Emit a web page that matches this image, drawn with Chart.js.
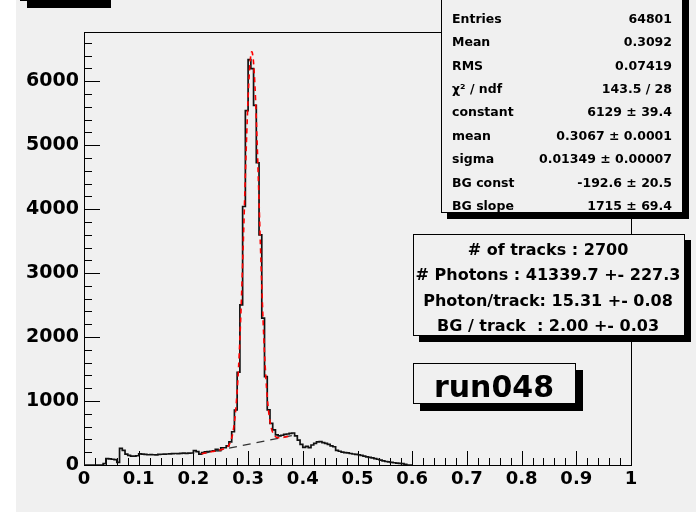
<!DOCTYPE html>
<html><head><meta charset="utf-8">
<script src="https://cdn.jsdelivr.net/npm/chart.js@4.4.1/dist/chart.umd.min.js"></script>
<style>html,body{margin:0;padding:0;background:#f0f0f0;}#wrap{width:696px;height:512px;position:relative;}</style>
</head><body><div id="wrap"><canvas id="c" width="696" height="512"></canvas></div>
<script>
// ---- data ----
const binWidth = 0.005;
const counts = [
  0,0,0,0,0,0,0,20,100,95,
  90,85,40,260,230,170,150,140,140,145,
  175,170,165,160,162,160,158,165,168,170,
  172,175,178,180,178,182,185,183,186,188,
  224,210,170,195,205,210,215,220,245,225,
  270,270,300,360,520,860,1450,2504,4042,5540,
  6338,6197,5623,4726,3599,2296,1382,861,652,548,
  470,455,465,480,485,495,500,455,390,323,
  275,290,271,313,339,360,365,350,339,323,
  300,285,230,215,200,195,190,180,172,165,
  160,150,140,128,118,110,100,90,75,65,
  55,48,40,35,30,25,20,10,0,0
];
const fitX = [0.215,0.225,0.235,0.245,0.255,0.26,0.2625,0.265,0.2675,0.27,0.2725,0.275,0.2775,0.28,0.2825,0.285,0.2875,0.29,0.2925,0.295,0.2975,0.30,0.3025,0.305,0.3067,0.3075,0.31,0.3125,0.315,0.3175,0.32,0.3225,0.325,0.3275,0.33,0.3325,0.335,0.3375,0.34,0.3425,0.345,0.3475,0.35,0.355,0.36,0.37,0.38];
const fitY = [176,193,210,228,249,269,286,313,356,422,521,666,872,1152,1518,1977,2526,3153,3831,4521,5175,5740,6165,6411,6462,6453,6287,5931,5420,4800,4126,3447,2807,2236,1752,1362,1061,839,682,576,508,467,443,426,427,442,459];
const bgX = [0.215, 0.38];
const bgY = [176, 459];
const xTickValues = [0,0.1,0.2,0.3,0.4,0.5,0.6,0.7,0.8,0.9,1];
const xTickLabels = ['0','0.1','0.2','0.3','0.4','0.5','0.6','0.7','0.8','0.9','1'];
const yTickValues = [0,1000,2000,3000,4000,5000,6000];
const yTickLabels = ['0','1000','2000','3000','4000','5000','6000'];
const yMax = 6770;
const statsLabels = ['Entries','Mean','RMS','\u03C7\u00B2 / ndf','constant','mean','sigma','BG const','BG slope'];
const statsValues = ['64801','0.3092','0.07419','143.5 / 28','6129 \u00B1 39.4','0.3067 \u00B1 0.0001','0.01349 \u00B1 0.00007','-192.6 \u00B1 20.5','1715 \u00B1 69.4'];
const infoLines = ['# of tracks : 2700','# Photons : 41339.7 +- 227.3','Photon/track: 15.31 +- 0.08','BG / track  : 2.00 +- 0.03'];
const runLabel = 'run048';

// ---- styling ----
const FONT = 'DejaVu Sans';
const BG = '#f0f0f0';

const histPts = counts.map((c,i)=>({x:i*binWidth, y:c})).concat([{x:counts.length*binWidth, y:0}]);
const fitPts = fitX.map((x,i)=>({x:x, y:fitY[i]}));
const bgPts = bgX.map((x,i)=>({x:x, y:bgY[i]}));

function box(c, x, y, w, h, sh){
  c.fillStyle = '#000';
  c.fillRect(x+sh, y+sh, w, h);
  c.fillStyle = BG;
  c.fillRect(x, y, w, h);
  c.strokeStyle = '#000'; c.lineWidth = 1;
  c.strokeRect(x+0.5, y+0.5, w-1, h-1);
}

const rootPlugin = {
  id: 'rootStyle',
  beforeDraw(chart){
    const c = chart.ctx;
    c.save();
    c.fillStyle = BG; c.fillRect(0,0,chart.width,chart.height);
    c.fillStyle = '#ffffff'; c.fillRect(0,0,16,chart.height);
    c.restore();
  },
  beforeDatasetsDraw(chart){
    const c = chart.ctx, a = chart.chartArea, xs = chart.scales.x, ys = chart.scales.y;
    c.save();
    c.strokeStyle = '#000'; c.lineWidth = 1;
    c.strokeRect(Math.round(a.left)+0.5, Math.round(a.top)+0.5, Math.round(a.right-a.left), Math.round(a.bottom-a.top));
    c.beginPath();
    // y ticks (inside frame)
    for (let v = 0; v <= yMax; v += 200){
      const py = Math.round(ys.getPixelForValue(v)) + 0.5;
      const len = (v % 1000 === 0) ? 16 : 8;
      c.moveTo(a.left, py); c.lineTo(a.left + len, py);
    }
    // x ticks (inside frame)
    for (let k = 0; k <= 50; k++){
      const v = k*0.02;
      const px = Math.round(xs.getPixelForValue(v)) + 0.5;
      const len = (k % 5 === 0) ? 14 : 7;
      c.moveTo(px, a.bottom); c.lineTo(px, a.bottom - len);
    }
    c.stroke();
    c.restore();
  },
  afterDraw(chart){
    const c = chart.ctx;
    c.save();
    // title box remnant (top-left)
    box(c, 20, -20, 84, 21, 7);
    // stats box
    box(c, 441, -10, 242, 223, 6);
    c.fillStyle = '#000';
    c.font = 'bold 12.5px "' + FONT + '"';
    c.textBaseline = 'alphabetic';
    statsLabels.forEach((t,i)=>{
      const by = 22.7 + 23.4*i;
      c.textAlign = 'left'; c.fillText(t, 452, by);
      c.textAlign = 'right'; c.fillText(statsValues[i], 672, by);
    });
    // info box
    box(c, 413, 234, 272, 102, 6);
    c.fillStyle = '#000';
    c.font = 'bold 16px "' + FONT + '"';
    c.textAlign = 'center';
    const ib = [255, 280, 305.5, 331];
    infoLines.forEach((t,i)=> c.fillText(t, 548, ib[i]));
    // run label box
    box(c, 413, 363, 163, 41, 7);
    c.fillStyle = '#000';
    c.font = 'bold 30px "' + FONT + '"';
    c.textAlign = 'center';
    c.fillText(runLabel, 494, 397);
    c.restore();
  }
};

new Chart(document.getElementById('c'), {
  type: 'scatter',
  data: { datasets: [
    { label:'fit', data: fitPts, showLine:true, borderColor:'#ff0000', borderWidth:1.6, borderDash:[5,4], pointRadius:0, cubicInterpolationMode:'monotone', order:1 },
    { label:'bg', data: bgPts, showLine:true, borderColor:'#333333', borderWidth:1.3, borderDash:[8,6], pointRadius:0, order:2 },
    { label:'hist', data: histPts, showLine:true, stepped:'before', borderColor:'#111111', borderWidth:1.7, pointRadius:0, order:3 }
  ]},
  options: {
    responsive:false, animation:false, devicePixelRatio:1,
    layout:{ padding:{ left:0, top:32, right:65, bottom:0 } },
    plugins:{ legend:{display:false}, tooltip:{enabled:false} },
    scales:{
      x:{ type:'linear', min:0, max:1,
        grid:{display:false, drawTicks:false}, border:{display:false},
        afterBuildTicks:(s)=>{ s.ticks = xTickValues.map(v=>({value:v})); },
        afterFit:(s)=>{ s.height = 47; },
        ticks:{ autoSkip:false, maxRotation:0, padding:4, color:'#000',
          font:{family:FONT, weight:'bold', size:18},
          callback:(v,i)=> xTickLabels[i] }
      },
      y:{ type:'linear', min:0, max:yMax,
        grid:{display:false, drawTicks:false}, border:{display:false},
        afterBuildTicks:(s)=>{ s.ticks = yTickValues.map(v=>({value:v})); },
        afterFit:(s)=>{ s.width = 84; },
        ticks:{ autoSkip:false, padding:5, color:'#000',
          font:{family:FONT, weight:'bold', size:19},
          callback:(v,i)=> yTickLabels[i] }
      }
    }
  },
  plugins:[rootPlugin]
});
</script></body></html>
